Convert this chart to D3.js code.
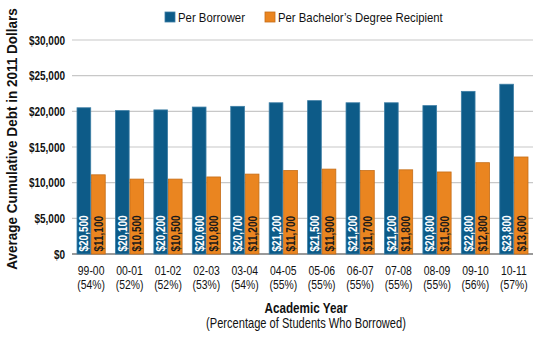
<!DOCTYPE html>
<html><head><meta charset="utf-8">
<script src="https://cdn.jsdelivr.net/npm/d3@7"></script>
<style>
body{margin:0;background:#fff;}
svg text{font-family:"Liberation Sans",Arial,sans-serif;}
</style></head>
<body><svg id="c" width="540" height="343"></svg>
<script>
const years = ["99-00","00-01","01-02","02-03","03-04","04-05","05-06","06-07","07-08","08-09","09-10","10-11"];
const pcts = ["(54%)","(52%)","(52%)","(53%)","(54%)","(55%)","(55%)","(55%)","(55%)","(55%)","(56%)","(57%)"];
const perBorrower = [20500,20100,20200,20600,20700,21200,21500,21200,21200,20800,22800,23800];
const perBachelor = [11100,10500,10500,10800,11200,11700,11900,11700,11800,11500,12800,13600];
const seriesNames = ["Per Borrower","Per Bachelor\u2019s Degree Recipient"];
const yTicks = [0,5000,10000,15000,20000,25000,30000];

const svg = d3.select("#c");
const colors = ["#0d5b88","#ea8520"];
const strokes = ["#3d7ea5","#c56d17"];
const x = d3.scaleBand().domain(years).range([72,533]).paddingInner(0.245).paddingOuter(0.12);
const xs = d3.scaleBand().domain([0,1]).range([0,x.bandwidth()]);
const y = d3.scaleLinear().domain([0,30000]).range([254,40]);
const fmt = d3.format("$,");

function label(parent, str, tx, ty, opts){
  const o = Object.assign({rot:0, sx:1, size:12, weight:"normal", anchor:"start", fill:"#111", fit:null}, opts);
  const g = parent.append("g");
  const t = g.append("text").attr("font-size",o.size).attr("font-weight",o.weight)
    .attr("text-anchor",o.anchor).attr("fill",o.fill).text(str);
  let sx = o.sx;
  if (o.fit) sx = o.fit / t.node().getComputedTextLength();
  g.attr("transform",`translate(${tx},${ty}) rotate(${o.rot}) scale(${sx},1)`);
  return g;
}

svg.append("g").selectAll("line").data(yTicks).join("line")
  .attr("x1",72).attr("x2",533).attr("y1",d=>y(d)).attr("y2",d=>y(d))
  .attr("stroke",d=>d===0?"#777":"#c8c8c8").attr("stroke-width",d=>d===0?1.5:1.2);

const yl = svg.append("g");
yTicks.forEach(d=>label(yl, fmt(d), 65, y(d)+4.5, {size:12.5, weight:"bold", anchor:"end", sx:0.8}));

const data = years.map((yr,i)=>({yr, vals:[perBorrower[i],perBachelor[i]]}));
const g = svg.append("g").selectAll("g").data(data).join("g")
  .attr("transform",d=>`translate(${x(d.yr)},0)`);
g.selectAll("rect").data(d=>d.vals.map((v,k)=>({v,k}))).join("rect")
  .attr("x",d=>xs(d.k)+0.4).attr("width",xs.bandwidth()-0.8)
  .attr("y",d=>y(d.v)).attr("height",d=>y(0)-y(d.v))
  .attr("fill",d=>colors[d.k]).attr("stroke",d=>strokes[d.k]).attr("stroke-width",0.8);

const vl = svg.append("g");
data.forEach(d=>{
  d.vals.forEach((v,k)=>{
    label(vl, fmt(v), x(d.yr)+xs(k)+xs.bandwidth()/2+4.6, y(0)-2.5,
      {rot:-90, size:12.8, weight:"bold", sx:0.78, fill: k===0?"#fff":"#1a1a1a"});
  });
});

const xl = svg.append("g");
years.forEach((yr,i)=>{
  const cx = x(yr)+x.bandwidth()/2;
  label(xl, yr, cx, 275, {size:13, anchor:"middle", sx:0.8});
  label(xl, pcts[i], cx, 289, {size:13, anchor:"middle", sx:0.8});
});

label(svg, "Academic Year", 306, 313, {size:15.5, weight:"bold", anchor:"middle", fit:83});
label(svg, "(Percentage of Students Who Borrowed)", 306, 328, {size:14, anchor:"middle", fit:200});
label(svg, "Average Cumulative Debt in 2011 Dollars", 17, 139, {rot:-90, size:15, weight:"bold", anchor:"middle", fit:262});

const lg = svg.append("g");
const lx = [165,265];
const lw = [67,165];
seriesNames.forEach((n,i)=>{
  lg.append("rect").attr("x",lx[i]).attr("y",12).attr("width",10).attr("height",10)
    .attr("fill",colors[i]).attr("stroke",strokes[i]).attr("stroke-width",0.8);
  label(lg, n, lx[i]+13, 21.5, {size:13, fit:lw[i]});
});
</script></body></html>
